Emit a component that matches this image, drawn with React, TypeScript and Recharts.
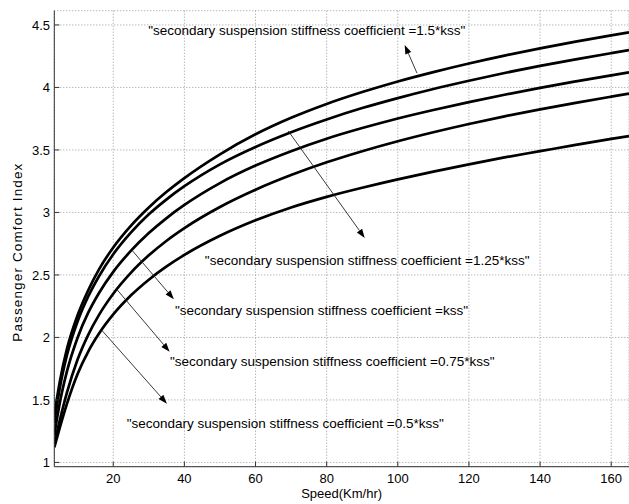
import React from "react";
import { LineChart, Line, XAxis, YAxis, CartesianGrid, ReferenceLine, ReferenceDot } from "recharts";

const speeds = [3.43, 5, 7, 10, 13, 16, 20, 25, 30, 35, 40, 50, 60, 70, 80, 90, 100, 110, 120, 130, 140, 150, 160, 165];
const kss150 = [1.38, 1.65, 1.91, 2.18, 2.38, 2.545, 2.72, 2.895, 3.04, 3.165, 3.275, 3.465, 3.625, 3.757, 3.868, 3.963, 4.048, 4.123, 4.192, 4.255, 4.313, 4.367, 4.417, 4.441];
const kss125 = [1.32, 1.6, 1.86, 2.13, 2.33, 2.49, 2.665, 2.84, 2.985, 3.105, 3.21, 3.385, 3.524, 3.642, 3.744, 3.835, 3.915, 3.988, 4.054, 4.116, 4.173, 4.225, 4.274, 4.298];
const kss100 = [1.22, 1.48, 1.73, 2.0, 2.2, 2.356, 2.525, 2.694, 2.835, 2.955, 3.06, 3.235, 3.375, 3.49, 3.59, 3.675, 3.752, 3.82, 3.883, 3.942, 3.997, 4.048, 4.097, 4.12];
const kss075 = [1.15, 1.34, 1.56, 1.825, 2.023, 2.181, 2.35, 2.519, 2.657, 2.774, 2.875, 3.044, 3.182, 3.299, 3.401, 3.49, 3.57, 3.642, 3.708, 3.769, 3.825, 3.877, 3.926, 3.95];
const kss050 = [1.12, 1.28, 1.47, 1.709, 1.889, 2.031, 2.184, 2.337, 2.462, 2.568, 2.66, 2.813, 2.937, 3.04, 3.125, 3.198, 3.265, 3.327, 3.385, 3.44, 3.49, 3.54, 3.588, 3.61];

const xTicks = [20, 40, 60, 80, 100, 120, 140, 160];
const yTicks = [1, 1.5, 2, 2.5, 3, 3.5, 4, 4.5];

const labelTexts = [
  '"secondary suspension stiffness coefficient =1.5*kss"',
  '"secondary suspension stiffness coefficient =1.25*kss"',
  '"secondary suspension stiffness coefficient =kss"',
  '"secondary suspension stiffness coefficient =0.75*kss"',
  '"secondary suspension stiffness coefficient =0.5*kss"',
];
const labelX = [29.83, 45.76, 37.33, 35.93, 23.77];
const labelY = [4.423, 2.583, 2.178, 1.77, 1.276];
const arrowTailX = [105.4, 69.2, 25.2, 20.96, 16.7];
const arrowTailY = [4.114, 3.652, 2.7, 2.386, 2.06];
const arrowHeadX = [101.94, 90.7, 37.05, 35.85, 35.09];
const arrowHeadY = [4.34, 2.796, 2.306, 1.886, 1.47];

const data = speeds.map((x, i) => ({
  x,
  a: kss150[i],
  b: kss125[i],
  c: kss100[i],
  d: kss075[i],
  e: kss050[i],
}));

const FONT = '"Liberation Sans", Arial, Helvetica, sans-serif';

const Arrow = (props: any) => {
  const { x1, y1, x2, y2 } = props;
  const dx = x2 - x1;
  const dy = y2 - y1;
  const len = Math.sqrt(dx * dx + dy * dy) || 1;
  const ux = dx / len;
  const uy = dy / len;
  const hl = 9;
  const hw = 3.2;
  const bx = x2 - ux * hl;
  const by = y2 - uy * hl;
  const pts = `${x2},${y2} ${bx - uy * hw},${by + ux * hw} ${bx + uy * hw},${by - ux * hw}`;
  return (
    <g>
      <line x1={x1} y1={y1} x2={bx} y2={by} stroke="#222" strokeWidth={0.9} />
      <polygon points={pts} fill="#000" />
    </g>
  );
};

const makeLabel = (text: string) => (p: any) => (
  <text x={p.cx} y={p.cy} fontSize={13.5} fontFamily={FONT} fill="#000">
    {text}
  </text>
);

const YTitle = (p: any) => {
  const vb = p.viewBox || {};
  const cx = 18;
  const cy = (vb.y ?? 10.7) + (vb.height ?? 456) / 2 + 14;
  return (
    <text
      x={cx}
      y={cy}
      transform={`rotate(-90 ${cx} ${cy})`}
      textAnchor="middle"
      dominantBaseline="central"
      fontSize={13.5}
      textLength={178}
      lengthAdjust="spacing"
      fontFamily={FONT}
      fill="#000"
    >
      Passenger Comfort Index
    </text>
  );
};

export default function App() {
  return (
    <div style={{ position: "absolute", left: 0, top: 0, background: "#fff" }}>
      <LineChart width={629} height={504} data={data} margin={{ top: 10.7, right: 0, bottom: 0, left: 0 }}>
        <CartesianGrid
          xAxisId="b"
          yAxisId="l"
          stroke="#999"
          strokeDasharray="1 2"
          horizontal
          vertical
        />
        <XAxis
          xAxisId="b"
          dataKey="x"
          type="number"
          domain={[3.43, 165]}
          ticks={xTicks}
          interval={0}
          allowDataOverflow
          height={37.3}
          tickSize={-5}
          tickMargin={12.4}
          stroke="#333"
          tick={{ fill: "#000", fontSize: 13, fontFamily: FONT }}
          label={{ value: "Speed(Km/hr)", position: "insideBottom", offset: 6, fill: "#000", fontSize: 13, fontFamily: FONT }}
        />
        <XAxis
          xAxisId="t"
          dataKey="x"
          type="number"
          orientation="top"
          domain={[3.43, 165]}
          ticks={xTicks}
          interval={0}
          allowDataOverflow
          height={0}
          tickSize={-5}
          tick={false}
          stroke="#333"
        />
        <YAxis
          yAxisId="l"
          type="number"
          domain={[0.966, 4.614]}
          ticks={yTicks}
          interval={0}
          allowDataOverflow
          width={54.3}
          tickSize={-5}
          tickMargin={9.3}
          stroke="#333"
          tick={{ fill: "#000", fontSize: 13, fontFamily: FONT }}
          label={{ content: YTitle }}
        />
        <Line xAxisId="b" yAxisId="l" type="monotone" dataKey="a" stroke="#000" strokeWidth={2.7} dot={false} isAnimationActive={false} />
        <Line xAxisId="b" yAxisId="l" type="monotone" dataKey="b" stroke="#000" strokeWidth={2.7} dot={false} isAnimationActive={false} />
        <Line xAxisId="b" yAxisId="l" type="monotone" dataKey="c" stroke="#000" strokeWidth={2.7} dot={false} isAnimationActive={false} />
        <Line xAxisId="b" yAxisId="l" type="monotone" dataKey="d" stroke="#000" strokeWidth={2.7} dot={false} isAnimationActive={false} />
        <Line xAxisId="b" yAxisId="l" type="monotone" dataKey="e" stroke="#000" strokeWidth={2.7} dot={false} isAnimationActive={false} />
        {arrowTailX.map((tx, i) => (
          <ReferenceLine
            key={"arr" + i}
            xAxisId="b"
            yAxisId="l"
            segment={[{ x: tx, y: arrowTailY[i] }, { x: arrowHeadX[i], y: arrowHeadY[i] }]}
            shape={Arrow}
          />
        ))}
        {labelTexts.map((t, i) => (
          <ReferenceDot
            key={"lab" + i}
            xAxisId="b"
            yAxisId="l"
            x={labelX[i]}
            y={labelY[i]}
            r={0}
            shape={makeLabel(t)}
          />
        ))}
      </LineChart>
    </div>
  );
}
